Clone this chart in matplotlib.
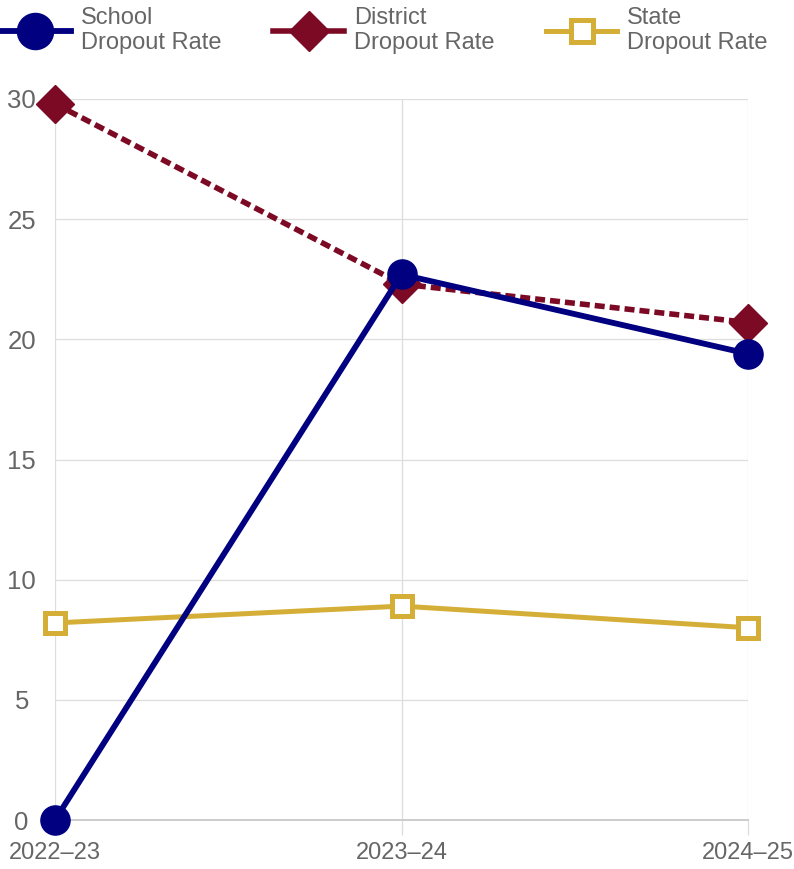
import matplotlib
matplotlib.use('Agg')
import matplotlib.pyplot as plt
from matplotlib.lines import Line2D

plt.rcParams['font.family'] = ['Liberation Sans', 'DejaVu Sans']

years = ['2022–23', '2023–24', '2024–25']
school_rate = [0.0, 22.7, 19.4]
district_rate = [29.8, 22.3, 20.7]
state_rate = [8.2, 8.9, 8.0]

NAVY = '#000080'
WINE = '#7d0a24'
GOLD = '#d4ae36'
TXT = '#666666'

DPI = 100
fig = plt.figure(figsize=(794 / DPI, 869 / DPI), dpi=DPI)
ax = fig.add_axes([55 / 794, 1 - 820 / 869, (748 - 55) / 794, (820 - 99) / 869])

x = list(range(len(years)))

ax.plot(x, state_rate, color=GOLD, lw=3.6, marker='s', ms=15,
        mfc='white', mec=GOLD, mew=3.6, zorder=3, clip_on=False)
ax.plot(x, district_rate, color=WINE, lw=4.0, ls=(0, (1.8, 0.9)),
        marker='D', ms=19, mfc=WINE, mec=WINE, zorder=4, clip_on=False)
ax.plot(x, school_rate, color=NAVY, lw=4.2, marker='o', ms=21,
        mfc=NAVY, mec=NAVY, zorder=5, clip_on=False)

ax.set_xlim(0, 2)
ax.set_ylim(0, 30)
ax.set_xticks(x)
ax.set_xticklabels(years)
ax.set_yticks(range(0, 31, 5))

ax.grid(True, color='#dddddd', lw=0.9, zorder=0)
for side in ['top', 'right', 'left']:
    ax.spines[side].set_visible(False)
ax.spines['bottom'].set_color('#cccccc')
ax.spines['bottom'].set_linewidth(1.4)

ax.tick_params(axis='x', length=11, width=0.9, color='#dddddd', pad=5,
               labelsize=17, labelcolor=TXT)
ax.tick_params(axis='y', length=0, pad=24, labelsize=18.5, labelcolor=TXT)
for lab in ax.get_yticklabels():
    lab.set_horizontalalignment('center')

handles = [
    Line2D([], [], color=NAVY, lw=4.2, marker='o', ms=26, mfc=NAVY, mec=NAVY),
    Line2D([], [], color=WINE, lw=4.0, marker='D', ms=20, mfc=WINE, mec=WINE),
    Line2D([], [], color=GOLD, lw=3.6, marker='s', ms=16, mfc='white', mec=GOLD, mew=3.6),
]
labels = ['School\nDropout Rate', 'District\nDropout Rate', 'State\nDropout Rate']
fig.legend(handles, labels, loc='upper left', bbox_to_anchor=(0.0, 1 - 7 / 869),
           ncol=3, frameon=False, fontsize=17, labelcolor=TXT,
           handlelength=3.0, handletextpad=0.42, columnspacing=2.2,
           borderpad=0.0, borderaxespad=0.0)

fig.savefig('out.png', dpi=DPI)
